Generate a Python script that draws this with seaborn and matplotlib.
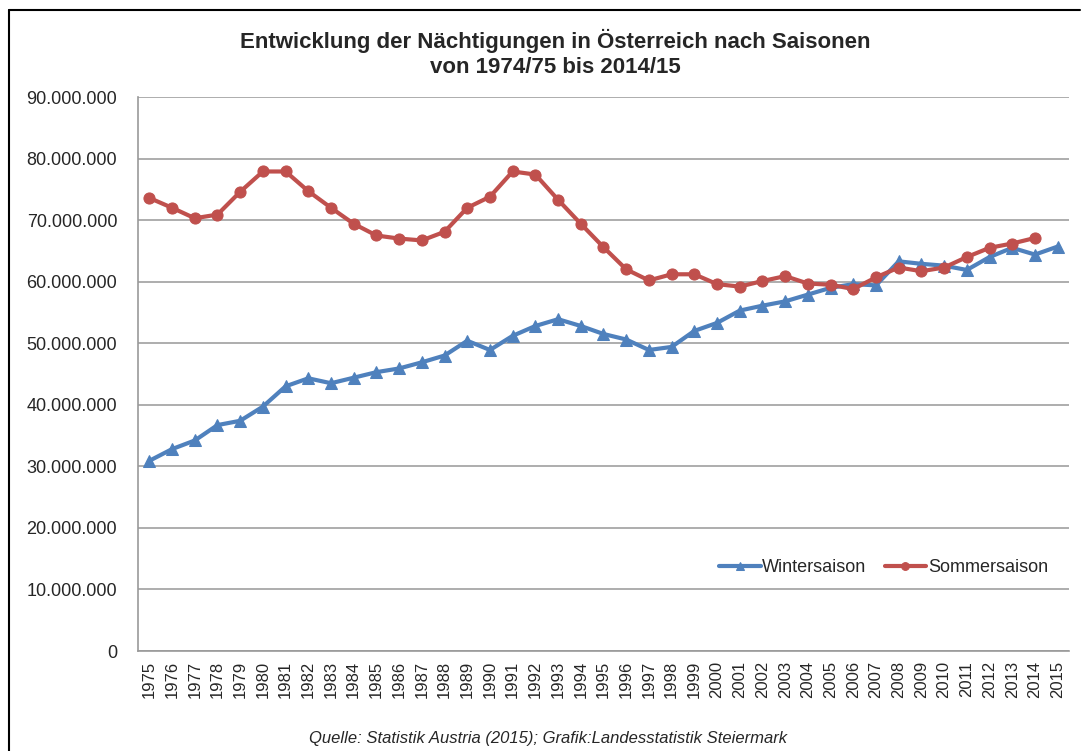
import matplotlib.pyplot as plt
import matplotlib.ticker as mticker
from matplotlib.lines import Line2D
import pandas as pd
import seaborn as sns

# Nächtigungen in Mio.
years_winter = list(range(1975, 2016))
winter = [30.9, 32.8, 34.2, 36.7, 37.4, 39.7, 43.0, 44.3, 43.5, 44.4,
          45.3, 45.9, 46.9, 48.0, 50.4, 48.9, 51.2, 52.8, 53.9, 52.8,
          51.5, 50.6, 48.9, 49.4, 52.0, 53.3, 55.3, 56.1, 56.8, 57.9,
          59.0, 59.6, 59.4, 63.3, 62.9, 62.6, 61.9, 64.0, 65.5, 64.4, 65.7]
years_summer = list(range(1975, 2015))
summer = [73.6, 72.0, 70.3, 70.9, 74.6, 77.9, 77.9, 74.7, 72.0, 69.4,
          67.5, 67.0, 66.7, 68.1, 72.0, 73.8, 77.9, 77.4, 73.3, 69.4,
          65.6, 62.0, 60.2, 61.2, 61.2, 59.6, 59.2, 60.1, 60.9, 59.7,
          59.5, 58.8, 60.7, 62.3, 61.7, 62.3, 64.0, 65.5, 66.2, 67.1]

df_w = pd.DataFrame({"Jahr": years_winter, "Wert": [v * 1e6 for v in winter]})
df_s = pd.DataFrame({"Jahr": years_summer, "Wert": [v * 1e6 for v in summer]})

sns.set_style("white")
plt.rcParams['font.family'] = ['Liberation Sans', 'DejaVu Sans']

fig = plt.figure(figsize=(10.86, 7.51), dpi=100)
ax = fig.add_axes([138/1086, 100/751, 931/1086, 554/751])

blue = "#4F81BD"
red = "#C0504D"
sns.lineplot(data=df_w, x="Jahr", y="Wert", ax=ax, color=blue, lw=3.0,
             marker="^", markersize=9, markeredgecolor=blue, label="Wintersaison")
sns.lineplot(data=df_s, x="Jahr", y="Wert", ax=ax, color=red, lw=3.0,
             marker="o", markersize=8, markeredgecolor=red, label="Sommersaison")

ax.set_xlim(1974.5, 2015.5)
ax.set_ylim(0, 90e6)
ax.set_xlabel("")
ax.set_ylabel("")
ax.set_yticks(range(0, 90000001, 10000000))
ax.yaxis.set_major_formatter(mticker.FuncFormatter(lambda v, _: f"{int(v):,}".replace(",", ".")))
ax.set_xticks(years_winter)
ax.set_xticklabels([str(y) for y in years_winter], rotation=90)
ax.set_xticks([y + 0.5 for y in range(1974, 2016)], minor=True)
ax.tick_params(axis="x", which="major", length=0, labelsize=12, pad=7)
ax.tick_params(axis="x", which="minor", length=5, color="#999999", width=1.2)
ax.tick_params(axis="y", length=5, color="#999999", width=1.2, labelsize=13, pad=10)

ax.grid(axis="y", color="#a0a0a0", lw=1.2)
ax.set_axisbelow(True)
for s in ["top", "right"]:
    ax.spines[s].set_visible(False)
for s in ["left", "bottom"]:
    ax.spines[s].set_color("#999999")
    ax.spines[s].set_linewidth(1.2)

ax.legend(loc="center right", bbox_to_anchor=(0.995, 0.15), ncol=2, frameon=False,
          fontsize=13, handlelength=2.3, handletextpad=0.1, columnspacing=1.0,
          markerscale=0.7)

fig.text(555/1086, 1 - 53/751, "Entwicklung der Nächtigungen in Österreich nach Saisonen\nvon 1974/75 bis 2014/15",
         ha="center", va="center", fontsize=16, fontweight="bold", linespacing=1.25)
fig.text(548/1086, 1 - 738/751, "Quelle: Statistik Austria (2015); Grafik:Landesstatistik Steiermark",
         ha="center", va="center", fontsize=12, style="italic")

fig.add_artist(Line2D([9/1086, 9/1086], [0, 1 - 10/751], transform=fig.transFigure, color="black", lw=1.5))
fig.add_artist(Line2D([9/1086, 1080/1086], [1 - 10/751, 1 - 10/751], transform=fig.transFigure, color="black", lw=1.5))

fig.savefig("out.png", dpi=100)
